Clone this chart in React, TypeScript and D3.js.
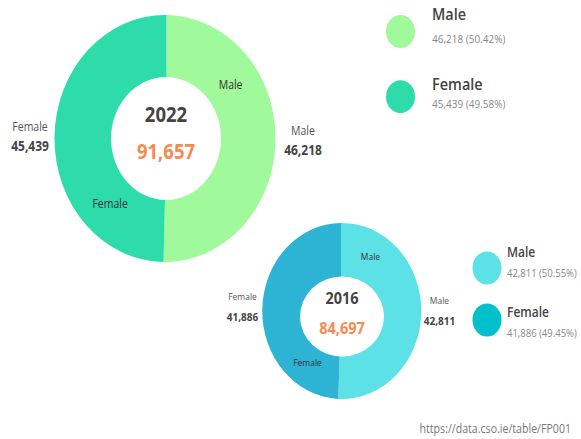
import React from 'react';
import * as d3 from 'd3';

// data
const categories = ['Male', 'Female'];
const years = ['2022', '2016'];
const values2022 = [46218, 45439];
const values2016 = [42811, 41886];
const colors2022 = ['#a0f99a', '#2edcab'];
const colors2016 = ['#5ce1e6', '#2db3d3'];
const legendColors2016 = ['#5ce1e6', '#00c0cb'];
const source = 'https://data.cso.ie/table/FP001';

const W = 581;
const H = 439;
const SY = 1.12; // text is drawn slightly stretched vertically
const FONT = '"Open Sans", "DejaVu Sans", sans-serif';

const fmt = d3.format(',');
const pct = d3.format('.2%');

interface Layout {
  cx: number; cy: number; rx: number; ry: number;
  hole: { cx: number; cy: number; rx: number; ry: number };
  inFrac: number[]; inR: number; outPad: number;
  nameDy: number; valDy: number;
  labelSize: number; centerSize: number; centerDy: [number, number];
  legend: { x: number; ys: number[]; tx: number; nameYs: number[]; valYs: number[]; nameSize: number; valSize: number };
}

const layouts: Layout[] = [
  {
    cx: 166.5, cy: 138.5, rx: 110.5, ry: 123.5,
    hole: { cx: 166, cy: 138.5, rx: 55, ry: 61.5 },
    inFrac: [0.29, 0.24], inR: 0.73, outPad: 26,
    nameDy: -10, valDy: 9,
    labelSize: 10.5, centerSize: 18.5, centerDy: [-24, 12.5],
    legend: { x: 400.5, ys: [31.5, 96.7], tx: 432, nameYs: [14.5, 84], valYs: [38.5, 103.3], nameSize: 14.5, valSize: 10 },
  },
  {
    cx: 341, cy: 311, rx: 79.5, ry: 88,
    hole: { cx: 342, cy: 316.5, rx: 42, ry: 40 },
    inFrac: [0.17, 0.19], inR: 0.72, outPad: 19,
    nameDy: -13, valDy: 8,
    labelSize: 8.5, centerSize: 14.5, centerDy: [-18, 12],
    legend: { x: 487, ys: [268, 320], tx: 507, nameYs: [251.3, 311.7], valYs: [272.3, 332.3], nameSize: 12, valSize: 9.5 },
  },
];

const seriesValues = [values2022, values2016];
const seriesColors = [colors2022, colors2016];
const seriesLegendColors = [colors2022, legendColors2016];

const T: React.FC<{
  x: number; y: number; size: number; weight?: number | string; fill: string;
  anchor?: 'start' | 'middle' | 'end'; children: React.ReactNode;
}> = ({ x, y, size, weight = 400, fill, anchor = 'middle', children }) => (
  <text
    transform={`translate(${x},${y}) scale(1,${SY})`}
    fontSize={size}
    fontWeight={weight}
    fill={fill}
    textAnchor={anchor}
    dominantBaseline="central"
    fontFamily={FONT}
  >
    {children}
  </text>
);

const pie = d3.pie<number>().sort(null).value(d => d);
const arc = d3.arc<d3.PieArcDatum<number>>().innerRadius(0).outerRadius(1);

const Donut: React.FC<{ i: number }> = ({ i }) => {
  const L = layouts[i];
  const values = seriesValues[i];
  const colors = seriesColors[i];
  const lcolors = seriesLegendColors[i];
  const total = d3.sum(values);
  const arcs = pie(values);

  return (
    <g>
      <g transform={`translate(${L.cx},${L.cy}) scale(${L.rx},${L.ry})`}>
        {arcs.map((a, k) => (
          <path key={k} d={arc(a) || ''} fill={colors[k]} />
        ))}
      </g>
      <ellipse cx={L.hole.cx} cy={L.hole.cy} rx={L.hole.rx} ry={L.hole.ry} fill="#fff" />

      {arcs.map((a, k) => {
        const ang = a.startAngle + L.inFrac[k] * (a.endAngle - a.startAngle);
        const x = L.cx + Math.sin(ang) * L.inR * L.rx;
        const y = L.cy - Math.cos(ang) * L.inR * L.ry;
        return (
          <T key={'in' + k} x={x} y={y} size={L.labelSize} fill="#333">
            {categories[k]}
          </T>
        );
      })}

      {arcs.map((a, k) => {
        const mid = (a.startAngle + a.endAngle) / 2;
        const x = L.cx + Math.sin(mid) * (L.rx + L.outPad);
        const y = L.cy - Math.cos(mid) * (L.ry + L.outPad);
        return (
          <g key={'out' + k}>
            <T x={x} y={y + L.nameDy} size={L.labelSize} fill="#555">{categories[k]}</T>
            <T x={x} y={y + L.valDy} size={L.labelSize + 1.5} weight={700} fill="#444">{fmt(values[k])}</T>
          </g>
        );
      })}

      <T x={L.hole.cx} y={L.hole.cy + L.centerDy[0]} size={L.centerSize} weight={700} fill="#444">
        {years[i]}
      </T>
      <T x={L.hole.cx} y={L.hole.cy + L.centerDy[1]} size={L.centerSize} weight={700} fill="#f78b4f">
        {fmt(total)}
      </T>

      {categories.map((c, k) => (
        <g key={'lg' + k}>
          <ellipse cx={L.legend.x} cy={L.legend.ys[k]} rx={14.5} ry={16.5} fill={lcolors[k]} />
          <T x={L.legend.tx} y={L.legend.nameYs[k]} size={L.legend.nameSize} weight={600} fill="#444" anchor="start">
            {c}
          </T>
          <T x={L.legend.tx} y={L.legend.valYs[k]} size={L.legend.valSize} fill="#888" anchor="start">
            {`${fmt(values[k])} (${pct(values[k] / total)})`}
          </T>
        </g>
      ))}
    </g>
  );
};

export default function App() {
  return (
    <svg
      width={W}
      height={H}
      style={{ position: 'absolute', left: 0, top: 0, background: '#fff' }}
    >
      <Donut i={0} />
      <Donut i={1} />
      <T x={571} y={428} size={10.6} fill="#777" anchor="end">{source}</T>
    </svg>
  );
}
